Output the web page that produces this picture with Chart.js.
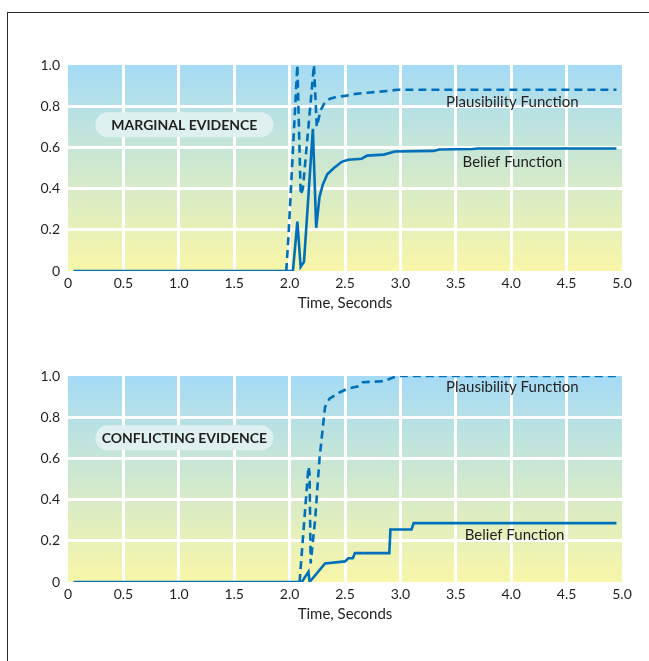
<!DOCTYPE html>
<html>
<head>
<meta charset="utf-8">
<script src="https://cdn.jsdelivr.net/npm/chart.js@4.4.1/dist/chart.umd.min.js"></script>
<style>
  html, body { margin: 0; padding: 0; background: #fff; }
  body { width: 649px; height: 661px; position: relative; overflow: hidden; }
  #frame { position: absolute; left: 7px; top: 12px; width: 700px; height: 700px;
           border-left: 1px solid #2b2b2b; border-top: 1px solid #2b2b2b; }
  canvas { position: absolute; left: 0; }
</style>
</head>
<body>
<div id="frame"></div>
<canvas id="marginal" width="649" height="312" style="top:0px"></canvas>
<canvas id="conflicting" width="649" height="312" style="top:311px"></canvas>
<script>
const xTickLabels = ['0', '0.5', '1.0', '1.5', '2.0', '2.5', '3.0', '3.5', '4.0', '4.5', '5.0'];
const yTickLabels = ['0', '0.2', '0.4', '0.6', '0.8', '1.0'];

// marginal evidence (top panel)
const marginalPlausX = [1.97, 1.99, 2.07, 2.10, 2.12, 2.22, 2.245, 2.28, 2.32, 2.36, 2.42, 2.50, 2.60, 2.70, 2.80, 2.90, 2.97, 3.50, 4.00, 4.50, 4.95];
const marginalPlausY = [0, 0.17, 1.0, 0.37, 0.40, 1.0, 0.70, 0.78, 0.82, 0.835, 0.845, 0.85, 0.86, 0.865, 0.87, 0.875, 0.88, 0.88, 0.88, 0.88, 0.88];
const marginalBeliefX = [0.05, 2.03, 2.07, 2.10, 2.13, 2.21, 2.24, 2.27, 2.30, 2.34, 2.40, 2.47, 2.53, 2.65, 2.70, 2.85, 2.95, 3.30, 3.35, 3.65, 3.70, 4.95];
const marginalBeliefY = [0, 0, 0.24, 0.02, 0.045, 0.69, 0.21, 0.36, 0.42, 0.47, 0.50, 0.53, 0.54, 0.545, 0.56, 0.565, 0.58, 0.583, 0.59, 0.592, 0.595, 0.595];

// conflicting evidence (bottom panel)
const conflictPlausX = [2.09, 2.17, 2.18, 2.19, 2.23, 2.27, 2.32, 2.36, 2.45, 2.53, 2.62, 2.66, 2.85, 2.97, 3.50, 4.00, 4.50, 4.95];
const conflictPlausY = [0, 0.56, 0.53, 0.09, 0.30, 0.60, 0.85, 0.89, 0.92, 0.94, 0.95, 0.97, 0.975, 1.0, 1.0, 1.0, 1.0, 1.0];
const conflictBeliefX = [0.05, 2.11, 2.17, 2.18, 2.32, 2.50, 2.53, 2.57, 2.59, 2.90, 2.91, 3.10, 3.12, 4.95];
const conflictBeliefY = [0, 0, 0.05, 0, 0.09, 0.10, 0.115, 0.115, 0.14, 0.14, 0.255, 0.255, 0.286, 0.286];

const LINE_BLUE = 'rgb(0,112,187)';
const TEXT_DARK = '#231f20';

function points(xs, ys) {
    return xs.map((x, i) => ({x: x, y: ys[i]}));
}

const panelBackground = {
    id: 'panelBackground',
    beforeDraw(chart) {
        const {ctx, chartArea: a} = chart;
        const grad = ctx.createLinearGradient(0, a.top, 0, a.bottom);
        grad.addColorStop(0, '#a5dbf6');
        grad.addColorStop(1, '#f9f6a8');
        ctx.save();
        ctx.fillStyle = grad;
        ctx.fillRect(a.left, a.top, a.right - a.left, a.bottom - a.top);
        ctx.restore();
    }
};

const panelText = {
    id: 'panelText',
    afterDraw(chart, args, opts) {
        const {ctx} = chart;
        const xs = chart.scales.x, ys = chart.scales.y;
        ctx.save();
        // rounded tag
        const tx = xs.getPixelForValue(opts.tag.x);
        const ty = ys.getPixelForValue(opts.tag.y);
        ctx.fillStyle = 'rgb(222,241,240)';
        ctx.beginPath();
        ctx.roundRect(tx - 89, ty - 12.5, 178, 25, 12.5);
        ctx.fill();
        ctx.fillStyle = TEXT_DARK;
        ctx.textAlign = 'center';
        ctx.textBaseline = 'middle';
        ctx.font = 'bold 14px Lato';
        ctx.fillText(opts.tag.text, tx, ty + 1);
        ctx.font = '15px Lato';
        opts.notes.forEach(n => {
            ctx.fillText(n.text, xs.getPixelForValue(n.x), ys.getPixelForValue(n.y));
        });
        ctx.restore();
    }
};

function makeChart(id, plausX, plausY, beliefX, beliefY, tag, notes) {
    return new Chart(document.getElementById(id).getContext('2d'), {
        type: 'line',
        data: {
            datasets: [
                {
                    label: 'Plausibility Function',
                    data: points(plausX, plausY),
                    borderColor: LINE_BLUE,
                    borderWidth: 2.6,
                    borderDash: [8, 5],
                    pointRadius: 0,
                    tension: 0,
                    fill: false,
                },
                {
                    label: 'Belief Function',
                    data: points(beliefX, beliefY),
                    borderColor: LINE_BLUE,
                    borderWidth: 2.6,
                    pointRadius: 0,
                    tension: 0,
                    fill: false,
                }
            ]
        },
        options: {
            responsive: false,
            animation: false,
            layout: {padding: {top: 65, right: 27, left: 0, bottom: 0}},
            plugins: {
                legend: {display: false},
                tooltip: {enabled: false},
                panelText: {tag: tag, notes: notes}
            },
            scales: {
                x: {
                    type: 'linear',
                    min: 0,
                    max: 5,
                    afterFit: scale => { scale.height = 41; },
                    border: {display: false},
                    grid: {
                        color: c => (c.tick && (c.tick.value === 0 || c.tick.value === 5)) ? 'rgba(0,0,0,0)' : '#ffffff',
                        lineWidth: 3,
                        drawTicks: false,
                    },
                    ticks: {
                        stepSize: 0.5,
                        padding: 4,
                        color: TEXT_DARK,
                        font: {family: 'Lato', size: 14},
                        maxRotation: 0,
                        autoSkip: false,
                        callback: value => xTickLabels[Math.round(value * 2)]
                    },
                    title: {
                        display: true,
                        text: 'Time, Seconds',
                        color: TEXT_DARK,
                        font: {family: 'Lato', size: 15},
                        padding: {top: 0, bottom: 0}
                    }
                },
                y: {
                    min: 0,
                    max: 1,
                    afterFit: scale => { scale.width = 68; },
                    border: {display: false},
                    grid: {
                        color: c => (c.tick && (c.tick.value === 0 || c.tick.value === 1)) ? 'rgba(0,0,0,0)' : '#ffffff',
                        lineWidth: 3,
                        drawTicks: false,
                    },
                    ticks: {
                        stepSize: 0.2,
                        padding: 8,
                        color: TEXT_DARK,
                        font: {family: 'Lato', size: 14},
                        callback: value => yTickLabels[Math.round(value * 5)]
                    }
                }
            }
        },
        plugins: [panelBackground, panelText]
    });
}

makeChart('marginal', marginalPlausX, marginalPlausY, marginalBeliefX, marginalBeliefY,
    {text: 'MARGINAL EVIDENCE', x: 1.05, y: 0.71},
    [{text: 'Plausibility Function', x: 4.01, y: 0.818}, {text: 'Belief Function', x: 4.01, y: 0.528}]);

makeChart('conflicting', conflictPlausX, conflictPlausY, conflictBeliefX, conflictBeliefY,
    {text: 'CONFLICTING EVIDENCE', x: 1.05, y: 0.70},
    [{text: 'Plausibility Function', x: 4.01, y: 0.944}, {text: 'Belief Function', x: 4.03, y: 0.226}]);
</script>
</body>
</html>
